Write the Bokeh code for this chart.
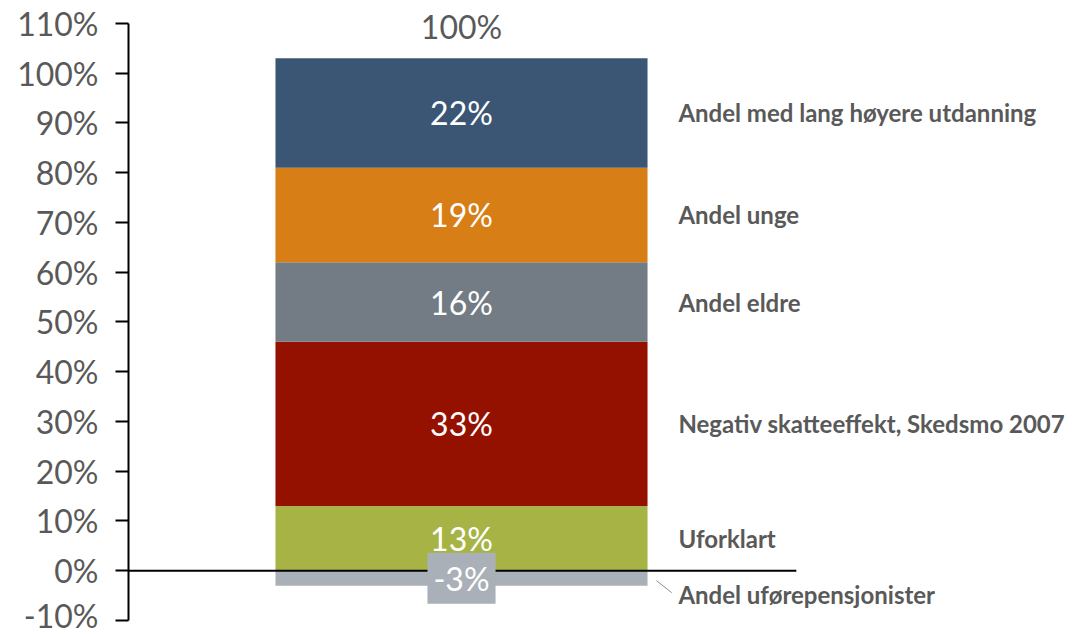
from bokeh.plotting import figure
from bokeh.models import ColumnDataSource, Range1d, FixedTicker
from bokeh.core.properties import value
from bokeh.embed import file_html
from bokeh.resources import INLINE

# ---- data ----
categories = ["Andel uførepensjonister", "Uforklart", "Negativ skatteeffekt, Skedsmo 2007",
              "Andel eldre", "Andel unge", "Andel med lang  høyere utdanning"]
values = [-3, 13, 33, 16, 19, 22]
colors = ["#AAB0B7", "#A7B445", "#941100", "#737B84", "#D77E16", "#3B5675"]
total_label = "100%"
y_ticks = [-10, 0, 10, 20, 30, 40, 50, 60, 70, 80, 90, 100, 110]
y_tick_labels = [f"{t}%" for t in y_ticks]

# stacking
bottoms, tops = [], []
pos = 0
for v in values:
    if v < 0:
        bottoms.append(v); tops.append(0)
    else:
        bottoms.append(pos); tops.append(pos + v); pos += v
mids = [(b + t) / 2 for b, t in zip(bottoms, tops)]

TXT = "#595959"
FONT = "Lato"

p = figure(width=1079, height=634, output_backend="svg", toolbar_location=None,
           x_range=Range1d(-0.895, 1.661), y_range=Range1d(-10, 114.6),
           min_border_left=128, min_border_right=0, min_border_top=0, min_border_bottom=14)
p.outline_line_color = None
p.xgrid.visible = False
p.ygrid.visible = False
p.xaxis.visible = False
p.background_fill_color = "white"
p.border_fill_color = "white"

ya = p.yaxis[0]
ya.ticker = FixedTicker(ticks=y_ticks)
ya.bounds = (y_ticks[0], y_ticks[-1])
ya.major_label_overrides = {t: l for t, l in zip(y_ticks, y_tick_labels)}
ya.minor_tick_line_color = None
ya.major_tick_out = 13
ya.major_tick_in = 0
ya.axis_line_color = "black"
ya.axis_line_width = 2
ya.major_tick_line_color = "black"
ya.major_tick_line_width = 2
ya.major_label_standoff = 17
ya.major_label_text_font = FONT
ya.major_label_text_font_size = "32px"
ya.major_label_text_color = TXT

src = ColumnDataSource(dict(x=[0] * len(values), bottom=bottoms, top=tops, color=colors,
                            mid=mids, lab=[f"{v}%" for v in values], cat=categories))
p.vbar(x="x", bottom="bottom", top="top", width=1.0, fill_color="color", line_color=None, source=src)

# zero line
p.segment(x0=[-0.895], y0=[0], x1=[0.9], y1=[0], line_color="black", line_width=2)

# segment labels
pos_idx = [i for i, v in enumerate(values) if v >= 0]
neg_idx = [i for i, v in enumerate(values) if v < 0]
p.text(x=[0] * len(pos_idx), y=[mids[i] for i in pos_idx], text=[f"{values[i]}%" for i in pos_idx],
       text_align="center", text_baseline="middle", text_color="white",
       text_font=value(FONT), text_font_size="32px")
p.text(x=[0] * len(neg_idx), y=[mids[i] for i in neg_idx], text=[f"{values[i]}%" for i in neg_idx],
       text_align="center", text_baseline="middle", text_color="white",
       text_font=value(FONT), text_font_size="32px",
       background_fill_color=colors[neg_idx[0]], padding=6)

# total label
p.text(x=[0], y=[max(tops)], text=[total_label], text_align="center", text_baseline="bottom",
       y_offset=-12, text_color=TXT, text_font=value(FONT), text_font_size="32px")

# category labels on the right
p.text(x=[0.583] * len(pos_idx), y=[mids[i] for i in pos_idx], text=[categories[i] for i in pos_idx],
       text_align="left", text_baseline="middle", text_color=TXT, text_font=value(FONT),
       text_font_style="bold", text_font_size="24px")
for i in neg_idx:
    p.segment(x0=[0.524], y0=[bottoms[i] + 1], x1=[0.565], y1=[bottoms[i] - 1.4],
              line_color="#8C8C8C", line_width=1)
    p.text(x=[0.583], y=[bottoms[i] - 1.4], text=[categories[i]], text_align="left",
           text_baseline="top", y_offset=-13, text_color=TXT, text_font=value(FONT),
           text_font_style="bold", text_font_size="24px")

open("out.html", "w").write(file_html(p, INLINE))
